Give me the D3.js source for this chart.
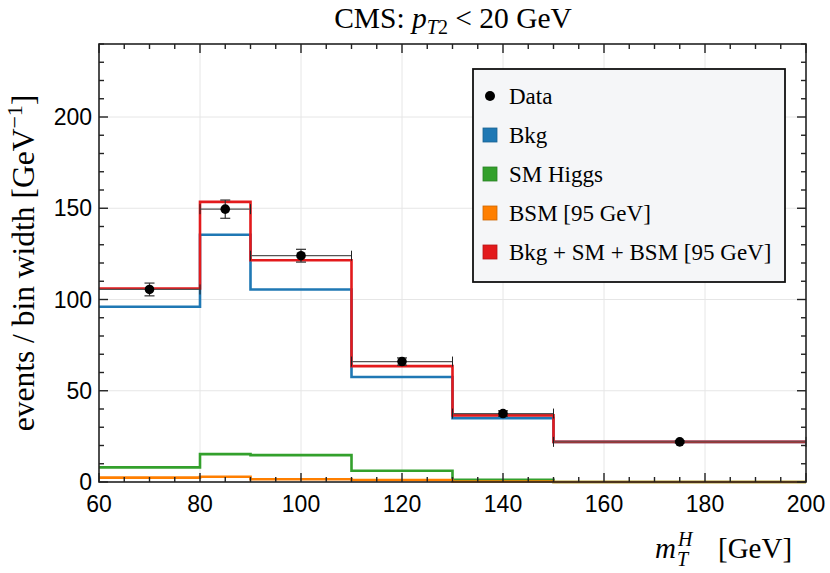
<!DOCTYPE html>
<html>
<head>
<meta charset="utf-8">
<script src="https://cdn.jsdelivr.net/npm/d3@7"></script>
<style>
  body { margin: 0; background: #fff; }
</style>
</head>
<body>
<div class="chart"></div>
<script>
// bin edges of the m_T^H histogram (GeV)
var binEdges = [60, 80, 90, 110, 130, 150, 200];

// stacked contributions, events / bin width
var bkgValues   = [96, 135.5, 105.5, 57.5, 35, 22];
var smValues    = [8, 15.3, 14.7, 6.2, 1.2, 0];
var bsmValues   = [2.4, 2.9, 1.5, 1.1, 0.3, 0];
var totalValues = [106, 153.5, 121.5, 63.5, 36.5, 22];

// data points
var dataX   = [70, 85, 100, 120, 140, 175];
var dataY   = [105.5, 149.5, 124, 66, 37.5, 22];
var dataErr = [3.5, 5, 3.5, 2, 1.5, 0.6];

var xTicks = [60, 80, 100, 120, 140, 160, 180, 200];
var yTicks = [0, 50, 100, 150, 200];

var legendLabels = ["Data", "Bkg", "SM Higgs", "BSM [95 GeV]", "Bkg + SM + BSM [95 GeV]"];
var legendColors = ["#000", "#1f78b4", "#33a02c", "#ff7f00", "#e31a1c"];

var SERIF = "'Liberation Serif', 'DejaVu Serif', serif",
    SANS = "'Liberation Sans', Arial, sans-serif";

var W = 830, H = 573;
var margin = {top: 44, right: 24, bottom: 91, left: 99},
    width = W - margin.left - margin.right,
    height = H - margin.top - margin.bottom;

var svg = d3.select(".chart").append("svg")
  .attr("width", W)
  .attr("height", H);

var g = svg.append("g")
  .attr("transform", `translate(${margin.left}, ${margin.top})`);

var x = d3.scaleLinear().domain([60, 200]).range([0, width]);
var y = d3.scaleLinear().domain([0, 240]).range([height, 0]);

// grid
g.append("g").selectAll("line")
  .data(xTicks.slice(1, -1))
  .enter().append("line")
  .attr("x1", d => x(d)).attr("x2", d => x(d))
  .attr("y1", 0).attr("y2", height)
  .attr("stroke", "#e6e6e6").attr("stroke-width", 1);

g.append("g").selectAll("line")
  .data(yTicks.slice(1))
  .enter().append("line")
  .attr("x1", 0).attr("x2", width)
  .attr("y1", d => y(d)).attr("y2", d => y(d))
  .attr("stroke", "#e6e6e6").attr("stroke-width", 1);

// step histograms
function stepPoints(values) {
  var pts = values.map((v, i) => [binEdges[i], v]);
  pts.push([binEdges[binEdges.length - 1], values[values.length - 1]]);
  return pts;
}

var line = d3.line()
  .x(d => x(d[0]))
  .y(d => y(d[1]))
  .curve(d3.curveStepAfter);

var series = [
  {values: bkgValues, color: legendColors[1]},
  {values: smValues, color: legendColors[2]},
  {values: bsmValues, color: legendColors[3]},
  {values: totalValues, color: legendColors[4]}
];

series.forEach(s => {
  g.append("path")
    .datum(stepPoints(s.values))
    .attr("d", line)
    .attr("fill", "none")
    .attr("stroke", s.color)
    .attr("stroke-width", 2.6)
    .attr("stroke-linejoin", "miter");
});

// data error bars
var bars = g.append("g");
dataX.forEach((dx, i) => {
  var lo = binEdges[i], hi = binEdges[i + 1];
  bars.append("line")
    .attr("x1", x(lo)).attr("x2", x(hi))
    .attr("y1", y(dataY[i])).attr("y2", y(dataY[i]))
    .attr("stroke", "#555").attr("stroke-width", 1.3);
  [lo, hi].forEach(e => {
    if (e === 60) return;
    bars.append("line")
      .attr("x1", x(e)).attr("x2", x(e))
      .attr("y1", y(dataY[i]) - 5).attr("y2", y(dataY[i]) + 5)
      .attr("stroke", "#222").attr("stroke-width", 1);
  });
  bars.append("line")
    .attr("x1", x(dx)).attr("x2", x(dx))
    .attr("y1", y(dataY[i] - dataErr[i])).attr("y2", y(dataY[i] + dataErr[i]))
    .attr("stroke", "#333").attr("stroke-width", 1.2);
  [dataY[i] - dataErr[i], dataY[i] + dataErr[i]].forEach(v => {
    bars.append("line")
      .attr("x1", x(dx) - 5).attr("x2", x(dx) + 5)
      .attr("y1", y(v)).attr("y2", y(v))
      .attr("stroke", "#333").attr("stroke-width", 1.2);
  });
});

g.append("g").selectAll("circle")
  .data(dataX)
  .enter().append("circle")
  .attr("cx", d => x(d))
  .attr("cy", (d, i) => y(dataY[i]))
  .attr("r", 4.8)
  .attr("fill", "#000");

// frame with inward ticks on all sides
g.append("rect")
  .attr("width", width).attr("height", height)
  .attr("fill", "none").attr("stroke", "#222").attr("stroke-width", 1.6);

var xMinor = d3.range(60, 201, 5);
var yMinor = d3.range(0, 241, 10);
var ticks = g.append("g").attr("stroke", "#222").attr("stroke-width", 1.4);

xMinor.forEach(v => {
  var len = v % 20 === 0 ? 9 : 5;
  ticks.append("line").attr("x1", x(v)).attr("x2", x(v)).attr("y1", height).attr("y2", height - len);
  ticks.append("line").attr("x1", x(v)).attr("x2", x(v)).attr("y1", 0).attr("y2", len);
});
yMinor.forEach(v => {
  var len = v % 50 === 0 ? 9 : 5;
  ticks.append("line").attr("y1", y(v)).attr("y2", y(v)).attr("x1", 0).attr("x2", len);
  ticks.append("line").attr("y1", y(v)).attr("y2", y(v)).attr("x1", width).attr("x2", width - len);
});

// tick labels
g.append("g").selectAll("text")
  .data(xTicks)
  .enter().append("text")
  .attr("font-family", SANS)
  .attr("x", d => x(d))
  .attr("y", height + 30)
  .attr("text-anchor", "middle")
  .attr("font-size", 23)
  .text(d => d);

g.append("g").selectAll("text")
  .data(yTicks)
  .enter().append("text")
  .attr("font-family", SANS)
  .attr("x", -7)
  .attr("y", d => y(d) + 8)
  .attr("text-anchor", "end")
  .attr("font-size", 23)
  .text(d => d);

// title
var title = svg.append("text")
  .attr("font-family", SERIF)
  .attr("x", 453).attr("y", 28)
  .attr("text-anchor", "middle")
  .attr("font-size", 29.5);
title.append("tspan").text("CMS: ");
title.append("tspan").attr("font-style", "italic").text("p");
title.append("tspan").attr("font-style", "italic").attr("font-size", 20).attr("dy", 6).text("T");
title.append("tspan").attr("font-size", 20).text("2");
title.append("tspan").attr("dy", -6).text(" < 20 GeV");

// y label
var ylab = svg.append("text")
  .attr("font-family", SERIF)
  .attr("transform", "translate(34, 263) rotate(-90)")
  .attr("text-anchor", "middle")
  .attr("font-size", 31.5);
ylab.append("tspan").text("events / bin width [GeV");
ylab.append("tspan").attr("font-size", 22).attr("dy", -12).text("\u22121");
ylab.append("tspan").attr("dy", 12).text("]");

// x label
var xl = svg.append("g").attr("font-family", SERIF);
xl.append("text").attr("x", 655).attr("y", 558).attr("font-size", 29)
  .attr("font-style", "italic").text("m");
xl.append("text").attr("x", 678).attr("y", 546).attr("font-size", 20)
  .attr("font-style", "italic").text("H");
xl.append("text").attr("x", 677).attr("y", 566).attr("font-size", 20)
  .attr("font-style", "italic").text("T");
xl.append("text").attr("x", 718).attr("y", 558).attr("font-size", 29).text("[GeV]");

// legend
var legend = svg.append("g").attr("transform", "translate(473, 69)");
legend.append("rect")
  .attr("width", 312).attr("height", 213)
  .attr("fill", "#f5f6f8").attr("stroke", "#111").attr("stroke-width", 1.8);

legendLabels.forEach((label, i) => {
  var cy = 27 + i * 39;
  if (i === 0) {
    legend.append("circle").attr("cx", 17).attr("cy", cy).attr("r", 5).attr("fill", "#000");
  } else {
    legend.append("rect")
      .attr("x", 10).attr("y", cy - 7).attr("width", 14).attr("height", 14)
      .attr("fill", legendColors[i])
      .attr("stroke", d3.color(legendColors[i]).darker(0.6)).attr("stroke-width", 0.8);
  }
  legend.append("text")
    .attr("font-family", SERIF)
    .attr("x", 36).attr("y", cy + 8)
    .attr("font-size", 23)
    .text(label);
});
</script>
</body>
</html>
